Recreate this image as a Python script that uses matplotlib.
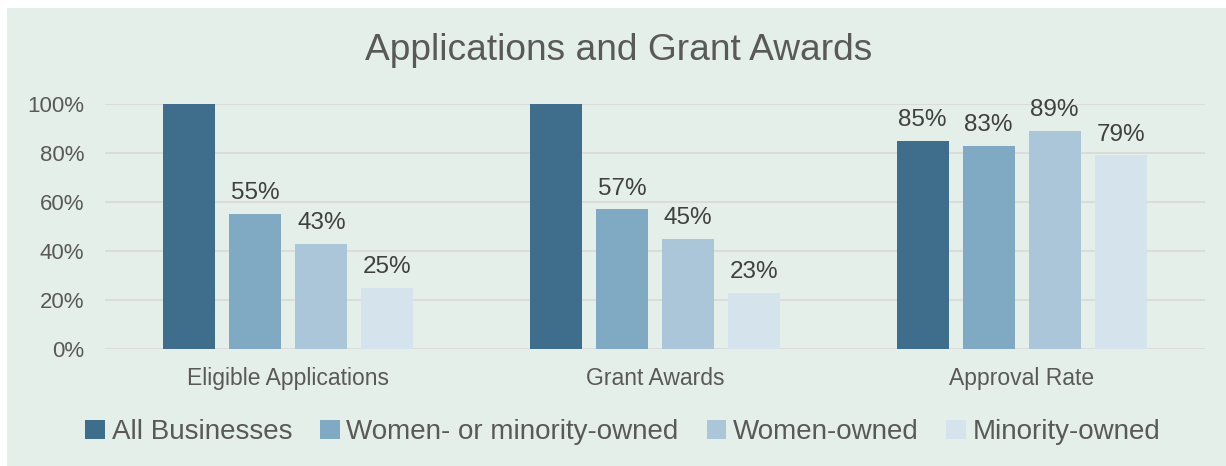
import numpy as np
import matplotlib
matplotlib.use('Agg')
import matplotlib.pyplot as plt
from matplotlib.ticker import PercentFormatter

categories = ['Eligible Applications', 'Grant Awards', 'Approval Rate']
series = ['All Businesses', 'Women- or minority-owned', 'Women-owned', 'Minority-owned']
all_businesses = [100, 100, 85]
women_or_minority = [55, 57, 83]
women_owned = [43, 45, 89]
minority_owned = [25, 23, 79]
show_labels = [[False, False, True], [True, True, True], [True, True, True], [True, True, True]]

colors = ['#3F6E8C', '#80A9C4', '#ABC6D9', '#D5E3EC']
bg = '#E5EFEA'
text_color = '#595959'

plt.rcParams['font.family'] = ['Liberation Sans', 'DejaVu Sans']

fig = plt.figure(figsize=(12.26, 4.66), dpi=100)
fig.patch.set_facecolor('white')
# chart area background (white strip on top/left like the original)
fig.patches.append(plt.Rectangle((7 / 1226, 0), 1 - 7 / 1226, 1 - 8 / 466,
                                 transform=fig.transFigure, facecolor=bg,
                                 edgecolor='none', zorder=-1))

ax = fig.add_axes([105 / 1226, 1 - 349 / 466, 1100 / 1226, 245 / 466])
ax.set_facecolor(bg)

x = np.arange(len(categories))
width = 0.142
step = 0.18
values = [all_businesses, women_or_minority, women_owned, minority_owned]
for i, (name, vals) in enumerate(zip(series, values)):
    pos = x + (i - 1.5) * step
    bars = ax.bar(pos, vals, width, color=colors[i], label=name, zorder=3)
    for b, v, show in zip(bars, vals, show_labels[i]):
        if show:
            ax.text(b.get_x() + b.get_width() / 2, v + 4, f'{v}%', ha='center',
                    va='bottom', fontsize=17.5, color='#404040')

ax.set_xlim(-0.5, 2.5)
ax.set_ylim(0, 100)
ax.set_yticks([0, 20, 40, 60, 80, 100])
ax.yaxis.set_major_formatter(PercentFormatter(decimals=0))
ax.set_xticks(x)
ax.set_xticklabels(categories)
ax.tick_params(axis='both', length=0, colors=text_color)
ax.tick_params(axis='y', pad=15, labelsize=16)
ax.tick_params(axis='x', pad=13, labelsize=16.5)
ax.grid(axis='y', color='#D9D9D9', linewidth=1.3, zorder=0)
ax.set_axisbelow(True)
for s in ax.spines.values():
    s.set_visible(False)

fig.text(619 / 1226, 1 - 50 / 466, 'Applications and Grant Awards', ha='center',
         va='center', fontsize=26.7, color=text_color)

leg = fig.legend(loc='center', bbox_to_anchor=(623 / 1226, 1 - 432 / 466), ncol=4,
                 frameon=False, fontsize=20, handlelength=0.7, handleheight=0.7,
                 handletextpad=0.25, columnspacing=1.0, labelcolor=text_color)

fig.savefig('out.png', dpi=100, facecolor=fig.get_facecolor())
